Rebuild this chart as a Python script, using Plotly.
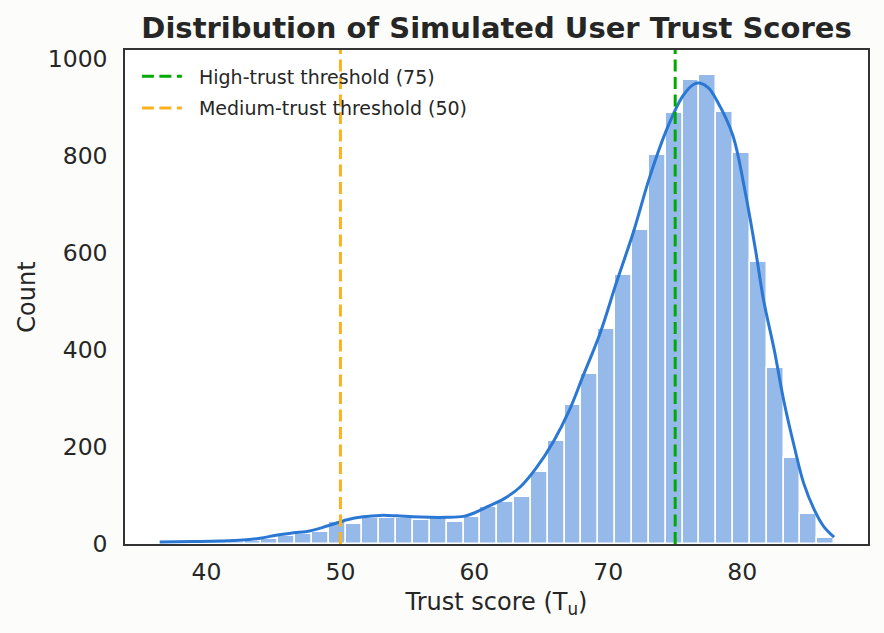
import numpy as np
import plotly.graph_objects as go

# histogram bins
bin_start = 36.55
bin_width = 1.258
counts = [2, 3, 3, 4, 5, 7, 10, 17, 20, 25,
          46, 41, 53, 54, 54, 49, 53, 46, 56, 77,
          87, 97, 148, 212, 287, 350, 444, 555, 647, 802,
          889, 957, 967, 891, 806, 582, 363, 178, 62, 13]

# kde curve, in count units
kde_x = [36.5, 39.0, 41.0, 42.7, 44.0, 45.2, 46.5, 47.7, 49.0, 50.5,
         51.7, 53.0, 54.2, 55.4, 56.7, 57.9, 59.2, 60.0, 60.9, 62.2,
         63.4, 64.6, 65.9, 67.1, 68.1, 69.4, 70.6, 71.9, 73.1, 74.4,
         75.6, 76.4, 76.9, 77.5, 78.1, 79.3, 80.2, 81.0, 81.6, 82.4,
         83.1, 83.9, 84.6, 85.4, 86.1, 86.87]
kde_y = [4, 5, 6, 8, 12, 18, 23, 27, 37, 50,
         56, 59, 58, 56, 55, 55, 57, 64, 76, 93,
         117, 156, 211, 276, 345, 435, 538, 645, 757, 857,
         925, 948, 950, 940, 915, 843, 730, 606, 503, 400,
         297, 200, 125, 70, 36, 14]

thresholds = [75, 50]
threshold_names = ["High-trust threshold (75)", "Medium-trust threshold (50)"]
threshold_colors = ["#00aa00", "#fbb21e"]

centers = bin_start + bin_width * (np.arange(len(counts)) + 0.5)

fig = go.Figure()

fig.add_trace(go.Bar(x=centers, y=counts, width=bin_width,
                     marker=dict(color="#95b9e8", line=dict(color="white", width=1.5)),
                     showlegend=False, hoverinfo="skip"))

fig.add_trace(go.Scatter(x=kde_x, y=kde_y, mode="lines",
                         line=dict(color="#2b78d4", width=3, shape="spline"),
                         showlegend=False))

for i, (xv, name, col) in enumerate(zip(thresholds, threshold_names, threshold_colors)):
    fig.add_vline(x=xv, line=dict(color=col, width=3, dash="12px,5.5px"),
                  showlegend=True, name="\u00a0\u00a0" + name, legendgroup=f"t{i}",
                  layer="above")

fig.update_layout(
    width=884, height=633,
    margin=dict(l=125, r=16, t=50, b=89),
    paper_bgcolor="#fcfcfa",
    plot_bgcolor="white",
    font=dict(family="DejaVu Sans", color="#262626", size=20),
    bargap=0,
    title=dict(text="<b>Distribution of Simulated User Trust Scores</b>",
               x=0.5617, xanchor="center", y=0.956, yanchor="middle",
               font=dict(size=29, color="#262626")),
    legend=dict(x=0.016, y=0.985, xanchor="left", yanchor="top",
                bgcolor="rgba(255,255,255,0)", font=dict(size=19),
                itemwidth=40, tracegroupgap=4),
)

fig.update_xaxes(range=[33.91, 89.4], tickvals=[40, 50, 60, 70, 80],
                 showgrid=False, zeroline=False, ticks="", ticklabelstandoff=6,
                 tickfont=dict(size=23.5),
                 showline=True, linecolor="#333333", linewidth=1.5, mirror=True,
                 title=dict(text="Trust score (T<sub>u</sub>)", standoff=8))
fig.update_yaxes(range=[0, 1018.6], tickvals=[0, 200, 400, 600, 800, 1000],
                 showgrid=False, zeroline=False, ticks="", ticklabelstandoff=11,
                 tickfont=dict(size=23.5),
                 showline=True, linecolor="#333333", linewidth=1.5, mirror=True,
                 title=dict(text="Count", standoff=5))

fig.write_html("out.html", config={"displayModeBar": False},
               post_script="document.body.style.margin='0px';"
                           "document.body.style.background='#fcfcfa';")
